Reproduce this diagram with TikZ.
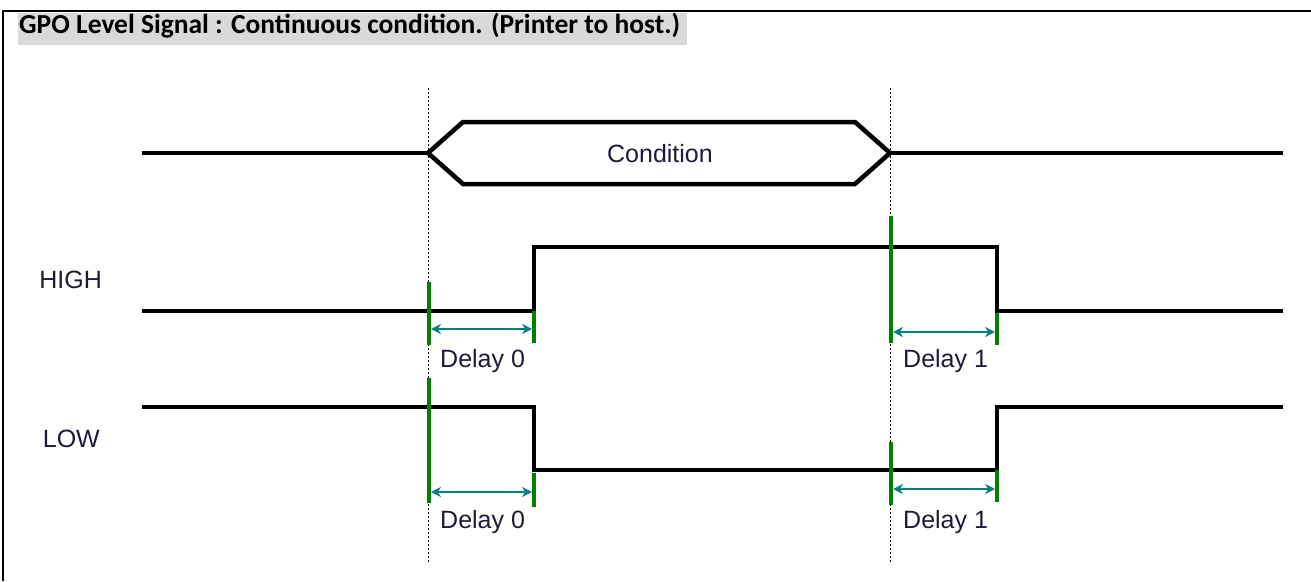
\documentclass[tikz,border=0pt]{standalone}
\usepackage{fontspec}
\setmainfont{Liberation Sans}
\newfontfamily\titlefont{Carlito}
\usetikzlibrary{arrows.meta}
\definecolor{delayteal}{RGB}{0,128,128}
\definecolor{edgegreen}{RGB}{0,128,0}
\definecolor{bandgray}{RGB}{217,217,217}
\definecolor{labeltext}{RGB}{28,28,56}
\begin{document}
\begin{tikzpicture}[x=1pt, y=-1pt,
  every node/.style={font=\fontsize{25}{30}\selectfont, text=labeltext, inner sep=0pt},
  signal/.style={line width=4.5pt, line join=miter},
  edgebar/.style={edgegreen, line width=4pt},
  delay/.style={delayteal, line width=2.5pt, {Stealth[length=10pt,width=10pt]}-{Stealth[length=10pt,width=10pt]}},
  guide/.style={line width=1pt, dash pattern=on 2pt off 2pt}]
  \useasboundingbox (0,0) rectangle (1311,581);
  \draw[line width=2pt] (1311,11) -- (3,11) -- (3,581);
  \fill[bandgray] (18,13) rectangle (687,45);
  \node[anchor=base west, text=black, font=\titlefont\bfseries\fontsize{27.5}{32}\selectfont] (title) at (19,33)
    {GPO Level Signal : Continuous condition. (Printer to host.)};
  \coordinate (t0) at (428,0); \coordinate (t1) at (534,0);
  \coordinate (t2) at (890,0); \coordinate (t3) at (997,0);
  \draw[guide] (t0 |- 0,88) -- (t0 |- 0,562);
  \draw[guide] (t2 |- 0,88) -- (t2 |- 0,562);
  \draw[signal] (142,153) -- (428,153);
  \draw[signal] (890,153) -- (1283,153);
  \draw[signal] (428,153) -- (463,122) -- (855,122) -- (890,153) -- (855,184) -- (463,184) -- cycle;
  \node[anchor=base] (cond) at (660,162) {Condition};
  \node[anchor=base east] (high) at (102,288) {HIGH};
  \node[anchor=base east] (low) at (100,447) {LOW};
  \draw[signal] (142,311) -- (534,311) -- (534,247) -- (997,247) -- (997,311) -- (1283,311);
  \draw[signal] (142,407) -- (534,407) -- (534,470) -- (997,470) -- (997,407) -- (1283,407);
  \draw[edgebar] (429,282) -- (429,345);
  \draw[edgebar] (534,311) -- (534,343);
  \draw[edgebar] (891,216) -- (891,343);
  \draw[edgebar] (997,313) -- (997,345);
  \draw[edgebar] (429,378) -- (429,503);
  \draw[edgebar] (534,473) -- (534,507);
  \draw[edgebar] (891,442) -- (891,505);
  \draw[edgebar] (997,470) -- (997,502);
  \draw[delay] (431,329) -- (532,329);
  \draw[delay] (893,332) -- (995,332);
  \draw[delay] (431,492) -- (532,492);
  \draw[delay] (893,489) -- (995,489);
  \node[anchor=base west] (d0high) at (440,367) {Delay 0};
  \node[anchor=base west] (d1high) at (903,367) {Delay 1};
  \node[anchor=base west] (d0low) at (440,528) {Delay 0};
  \node[anchor=base west] (d1low) at (903,528) {Delay 1};
\end{tikzpicture}
\end{document}
